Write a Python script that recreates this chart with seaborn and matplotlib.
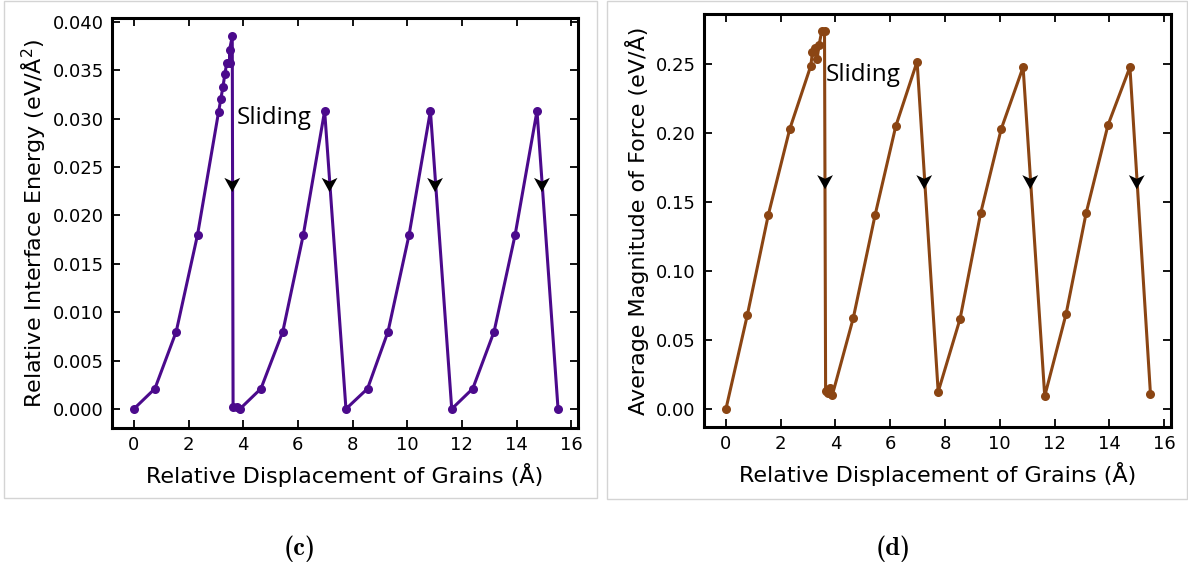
import numpy as np
import pandas as pd
import matplotlib
matplotlib.use("Agg")
import matplotlib.pyplot as plt
from matplotlib.path import Path
from matplotlib.patches import Rectangle
import seaborn as sns

# ---- data ----
energy_x = [0, 0.77, 1.55, 2.33, 3.1, 3.18, 3.26, 3.33, 3.4, 3.5, 3.5, 3.6,
            3.63, 3.76, 3.88, 4.65, 5.45, 6.2, 6.98, 7.76, 8.55, 9.3, 10.07,
            10.85, 11.63, 12.4, 13.18, 13.95, 14.75, 15.52]
energy_y = [0, 0.0021, 0.008, 0.018, 0.0307, 0.032, 0.0333, 0.0346, 0.0358,
            0.0358, 0.0371, 0.0385, 0.0002, 0.0002, 0.0, 0.0021, 0.008, 0.018,
            0.0308, 0.0, 0.0021, 0.008, 0.018, 0.0308, 0.0, 0.0021, 0.008,
            0.018, 0.0308, 0.0]
force_x = [0, 0.78, 1.55, 2.33, 3.1, 3.16, 3.25, 3.33, 3.4, 3.5, 3.6, 3.64,
           3.73, 3.81, 3.89, 4.65, 5.45, 6.2, 6.98, 7.75, 8.55, 9.3, 10.05,
           10.85, 11.64, 12.42, 13.15, 13.95, 14.75, 15.5]
force_y = [0, 0.068, 0.141, 0.203, 0.249, 0.259, 0.262, 0.254, 0.264, 0.274,
           0.274, 0.013, 0.012, 0.015, 0.0105, 0.066, 0.141, 0.205, 0.252,
           0.0125, 0.0655, 0.142, 0.203, 0.248, 0.0094, 0.069, 0.142, 0.206,
           0.248, 0.011]
energy_arrow_x = [3.6, 7.16, 11.02, 14.93]
energy_arrow_y = [0.0235, 0.0235, 0.0235, 0.0235]
force_arrow_x = [3.62, 7.24, 11.11, 15.0]
force_arrow_y = [0.167, 0.167, 0.167, 0.167]
xticks = [0, 2, 4, 6, 8, 10, 12, 14, 16]
energy_ticks = [0.000, 0.005, 0.010, 0.015, 0.020, 0.025, 0.030, 0.035, 0.040]
force_ticks = [0.00, 0.05, 0.10, 0.15, 0.20, 0.25]
xlabel = "Relative Displacement of Grains (Å)"
energy_label = "Relative Interface Energy (eV/Å$^2$)"
force_label = "Average Magnitude of Force (eV/Å)"
captions = ["(c)", "(d)"]

sns.set_style("ticks")
plt.rcParams["font.family"] = ["DejaVu Sans"]
plt.rcParams["mathtext.fontset"] = "dejavusans"
plt.rcParams["text.color"] = "black"
plt.rcParams["axes.labelcolor"] = "black"
plt.rcParams["xtick.color"] = "black"
plt.rcParams["ytick.color"] = "black"

fig = plt.figure(figsize=(11.88, 5.72), dpi=100)
W, H = 1188, 572

def ax_rect(l, r, t, b):
    return [l / W, 1 - b / H, (r - l) / W, (b - t) / H]

axL = fig.add_axes(ax_rect(112, 578, 18, 428))
axR = fig.add_axes(ax_rect(704, 1171, 14, 427))

# concave arrowhead marker pointing down
arrow_path = Path([(0, -1), (-0.75, 0.35), (0, 0), (0.75, 0.35), (0, -1)],
                  [Path.MOVETO, Path.LINETO, Path.LINETO, Path.LINETO, Path.CLOSEPOLY])

def draw(ax, x, y, color, ax_x, ax_y):
    df = pd.DataFrame({"x": x, "y": y})
    sns.lineplot(data=df, x="x", y="y", ax=ax, sort=False, estimator=None,
                 color=color, lw=2.2, marker="o", markersize=6.5,
                 markeredgewidth=0, markerfacecolor=color)
    da = pd.DataFrame({"x": ax_x, "y": ax_y})
    sns.scatterplot(data=da, x="x", y="y", ax=ax, marker=arrow_path, s=230,
                    color="black", edgecolor="none", zorder=5)

draw(axL, energy_x, energy_y, "#4b0a8c", energy_arrow_x, energy_arrow_y)
draw(axR, force_x, force_y, "#8b4513", force_arrow_x, force_arrow_y)

for ax in (axL, axR):
    ax.set_xlim(-0.8, 16.25)
    ax.set_xticks(xticks)
    ax.tick_params(direction="in", top=True, right=True, length=6, width=1.3,
                   labelsize=13, pad=6, colors="black")
    for s in ax.spines.values():
        s.set_linewidth(2.2)
        s.set_color("black")
    ax.set_xlabel(xlabel, fontsize=16, labelpad=6)

axL.set_ylim(-0.00197, 0.0404)
axL.set_yticks(energy_ticks)
axL.set_yticklabels([f"{v:.3f}" for v in energy_ticks])
axL.set_ylabel(energy_label, fontsize=16, labelpad=3)
axR.set_ylim(-0.013, 0.2865)
axR.set_yticks(force_ticks)
axR.set_yticklabels([f"{v:.2f}" for v in force_ticks])
axR.set_ylabel(force_label, fontsize=16, labelpad=5)

axL.text(3.77, 0.0301, "Sliding", fontsize=17.5, family="Open Sans", va="center", ha="left")
axR.text(3.65, 0.242, "Sliding", fontsize=17.5, family="Open Sans", va="center", ha="left")

# panel frames
fig.patches.append(Rectangle((4 / W, 1 - 498 / H), 593 / W, 497 / H, transform=fig.transFigure,
                             fill=False, edgecolor="#d4d4d4", lw=1))
fig.patches.append(Rectangle((607 / W, 1 - 499 / H), 580 / W, 498 / H, transform=fig.transFigure,
                             fill=False, edgecolor="#d4d4d4", lw=1))

fig.text(300 / W, 1 - 549 / H, captions[0], fontsize=19, ha="center", va="center",
         family="cmb10")
fig.text(893 / W, 1 - 549 / H, captions[1], fontsize=19, ha="center", va="center",
         family="cmb10")

fig.savefig("out.png", dpi=100)
